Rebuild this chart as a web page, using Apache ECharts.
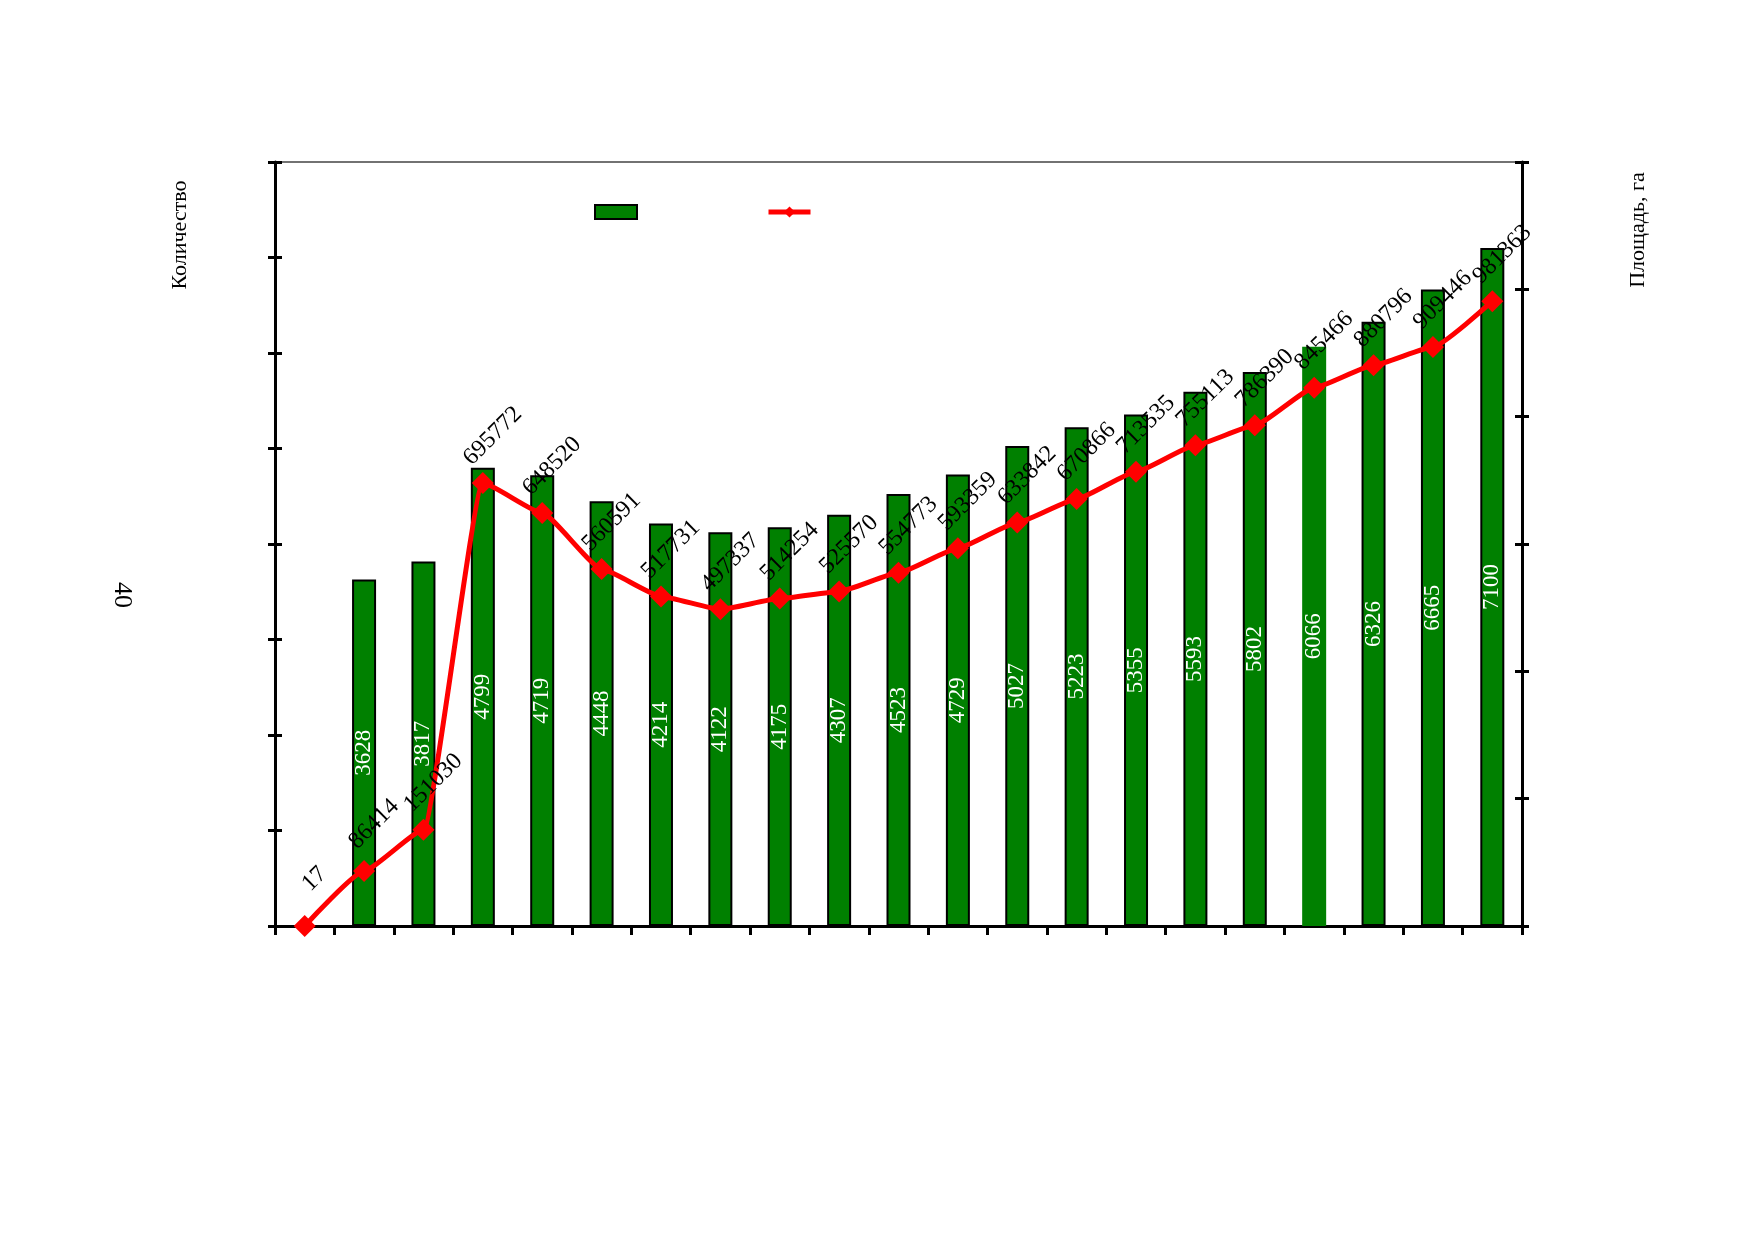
<!DOCTYPE html>
<html>
<head>
<meta charset="utf-8">
<script src="https://cdn.jsdelivr.net/npm/echarts@6/dist/echarts.min.js"></script>
<style>
  html, body { margin: 0; padding: 0; background: #ffffff; }
  #chart { width: 1754px; height: 1240px; }
</style>
</head>
<body>
<div id="chart"></div>
<script>
// ---- data ----
const categories = ['1', '2', '3', '4', '5', '6', '7', '8', '9', '10', '11',
  '12', '13', '14', '15', '16', '17', '18', '19', '20', '21'];
const countValues = [null, 3628, 3817, 4799, 4719, 4448, 4214, 4122, 4175, 4307, 4523,
  4729, 5027, 5223, 5355, 5593, 5802, 6066, 6326, 6665, 7100];
const areaValues = [17, 86414, 151030, 695772, 648520, 560591, 517731, 497337, 514254, 525570, 554773,
  593359, 633842, 670866, 713535, 755113, 786390, 845466, 880796, 909446, 981363];
const leftAxisTitle = 'Количество';
const rightAxisTitle = 'Площадь, га';
const pageNumber = '40';
const barSeriesName = 'Количество ';
const lineSeriesName = 'Площадь, га ';
const unframedBarIndex = 17;

// ---- chart ----
const FONT = "'Liberation Serif', 'Times New Roman', serif";
const chart = echarts.init(document.getElementById('chart'), null, { renderer: 'canvas' });

const barData = countValues.map((v, i) => (
  i === unframedBarIndex
    ? { value: v, itemStyle: { borderWidth: 0 } }
    : v
));

const axisLineStyle = { show: true, lineStyle: { color: '#000', width: 3 } };

const option = {
  backgroundColor: '#ffffff',
  animation: false,
  grid: {
    left: 275, right: 232, top: 162, bottom: 314,
    show: true, borderColor: '#444', borderWidth: 1.5, backgroundColor: 'transparent'
  },
  legend: {
    left: 589, top: 199,
    itemWidth: 42, itemHeight: 14, itemGap: 128,
    formatter: () => '',
    data: [
      { name: barSeriesName, icon: 'rect' },
      { name: lineSeriesName, lineStyle: { width: 5 } }
    ],
    textStyle: { fontFamily: FONT, fontSize: 1 },
    selectedMode: false
  },
  xAxis: {
    type: 'category',
    data: categories,
    boundaryGap: true,
    axisLine: axisLineStyle,
    axisTick: { show: true, interval: 0, length: 9, lineStyle: { color: '#000', width: 3 } },
    axisLabel: { show: false },
    splitLine: { show: false }
  },
  yAxis: [
    {
      type: 'value', position: 'left', min: 0, max: 8000, interval: 1000,
      axisLine: axisLineStyle,
      axisTick: { show: true, length: 7, lineStyle: { color: '#000', width: 3 } },
      axisLabel: { show: false }, splitLine: { show: false }
    },
    {
      type: 'value', position: 'right', min: 0, max: 1200000, interval: 200000,
      axisLine: axisLineStyle,
      axisTick: { show: true, length: 7, lineStyle: { color: '#000', width: 3 } },
      axisLabel: { show: false }, splitLine: { show: false }
    },
    {
      type: 'value', position: 'left', min: 0, max: 8000, interval: 1000,
      axisLine: { show: false },
      axisTick: { show: true, inside: true, length: 7, lineStyle: { color: '#000', width: 3 } },
      axisLabel: { show: false }, splitLine: { show: false }
    },
    {
      type: 'value', position: 'right', min: 0, max: 1200000, interval: 200000,
      axisLine: { show: false },
      axisTick: { show: true, inside: true, length: 7, lineStyle: { color: '#000', width: 3 } },
      axisLabel: { show: false }, splitLine: { show: false }
    }
  ],
  graphic: [
    {
      type: 'text', x: 180, y: 235, rotation: Math.PI / 2,
      style: { text: leftAxisTitle, font: '22px ' + FONT, fill: '#000', textAlign: 'center', textVerticalAlign: 'middle' }
    },
    {
      type: 'text', x: 1638, y: 230, rotation: Math.PI / 2,
      style: { text: rightAxisTitle, font: '22px ' + FONT, fill: '#000', textAlign: 'center', textVerticalAlign: 'middle' }
    },
    {
      type: 'text', x: 122, y: 595, rotation: -Math.PI / 2,
      style: { text: pageNumber, font: '26px ' + FONT, fill: '#000', textAlign: 'center', textVerticalAlign: 'middle' }
    }
  ],
  series: [
    {
      name: barSeriesName,
      type: 'bar',
      yAxisIndex: 0,
      data: barData,
      barWidth: 24,
      itemStyle: { color: '#008000', borderColor: '#000', borderWidth: 2 },
      label: {
        show: true, position: 'inside', rotate: 90,
        color: '#ffffff', fontFamily: FONT, fontSize: 23,
        formatter: p => (p.value == null ? '' : String(p.value))
      },
      z: 2
    },
    {
      name: lineSeriesName,
      type: 'line',
      yAxisIndex: 1,
      data: areaValues,
      smooth: 0.15,
      smoothMonotone: 'x',
      symbol: 'diamond',
      symbolSize: 22,
      lineStyle: { color: '#ff0000', width: 5 },
      itemStyle: { color: '#ff0000' },
      label: {
        show: true, position: 'top', distance: 26, rotate: 45,
        align: 'center', verticalAlign: 'middle', offset: [14, 0],
        color: '#000', fontFamily: FONT, fontSize: 24
      },
      z: 3
    }
  ]
};

chart.setOption(option);
</script>
</body>
</html>
